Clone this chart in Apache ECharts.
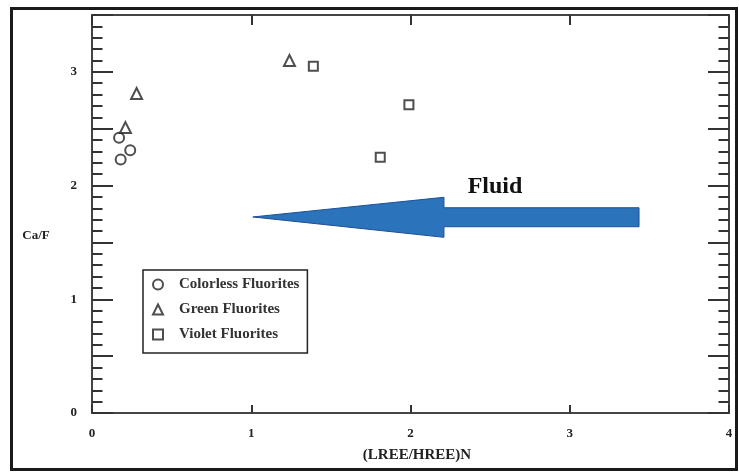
<!DOCTYPE html>
<html><head><meta charset="utf-8">
<script src="https://cdn.jsdelivr.net/npm/echarts@6/dist/echarts.min.js"></script>
<style>html,body{margin:0;padding:0;background:#fff}#c{width:739px;height:474px}</style>
</head><body><div id="c"></div>
<script>
// ---- data ----
const seriesNames = ['Colorless Fluorites', 'Green Fluorites', 'Violet Fluorites'];
const colorless = [[0.17, 2.42], [0.24, 2.31], [0.18, 2.23]];
const green = [[0.28, 2.81], [0.21, 2.51], [1.24, 3.10]];
const violet = [[1.39, 3.05], [1.99, 2.71], [1.81, 2.25]];
const arrowPoints = [[1.01, 1.724], [2.21, 1.897], [2.21, 1.805], [3.435, 1.805], [3.435, 1.638], [2.21, 1.638], [2.21, 1.545]];
const xRange = [0, 4];
const yRange = [0, 3.5];
const xName = '(LREE/HREE)N';
const yName = 'Ca/F';
const fluidLabel = 'Fluid';

const FONT = '"Liberation Serif", "DejaVu Serif", serif';
const INK = '#222';
const chart = echarts.init(document.getElementById('c'), null, {renderer: 'canvas'});

const tickLine = {color: '#333', width: 2};
const baseX = {
  type: 'value', min: xRange[0], max: xRange[1], interval: 1,
  axisLine: {show: true, onZero: false, lineStyle: {color: '#444', width: 2}},
  splitLine: {show: false}
};
const baseY = {
  type: 'value', min: yRange[0], max: yRange[1], interval: 0.5,
  axisLine: {show: true, onZero: false, lineStyle: {color: '#444', width: 2}},
  axisTick: {show: true, inside: true, length: 21, lineStyle: tickLine},
  minorTick: {show: true, splitNumber: 5, length: 10.5, lineStyle: tickLine},
  splitLine: {show: false}, minorSplitLine: {show: false}
};
const hollow = {color: '#fff', borderColor: INK, borderWidth: 2};

chart.setOption({
  animation: false,
  backgroundColor: '#fff',
  grid: {left: 92, right: 10, top: 15, bottom: 61, containLabel: false},
  xAxis: [
    Object.assign({}, baseX, {
      position: 'bottom',
      axisTick: {show: true, inside: true, length: 8, lineStyle: tickLine},
      axisLabel: {margin: 14, fontFamily: FONT, fontWeight: 'bold', fontSize: 13, color: INK}
    }),
    Object.assign({}, baseX, {
      position: 'top',
      axisTick: {show: true, inside: true, length: 10, lineStyle: tickLine},
      axisLabel: {show: false}
    })
  ],
  yAxis: [
    Object.assign({}, baseY, {
      position: 'left',
      axisLabel: {margin: 15, fontFamily: FONT, fontWeight: 'bold', fontSize: 13, color: INK,
        formatter: v => (Math.abs(v - Math.round(v)) < 1e-6 ? String(Math.round(v)) : '')}
    }),
    Object.assign({}, baseY, {position: 'right', axisLabel: {show: false}})
  ],
  legend: {
    orient: 'vertical', left: 143, top: 270,
    selectedMode: false,
    itemWidth: 10, itemHeight: 10, itemGap: 10,
    padding: [7, 8, 11, 9],
    borderColor: INK, borderWidth: 1.5,
    textStyle: {fontFamily: FONT, fontWeight: 'bold', fontSize: 15, lineHeight: 15, color: '#333', padding: [0, 0, 0, 11]},
    data: [
      {name: seriesNames[0], icon: 'circle', itemStyle: hollow},
      {name: seriesNames[1], icon: 'triangle', itemStyle: hollow},
      {name: seriesNames[2], icon: 'rect', itemStyle: hollow}
    ]
  },
  series: [
    {
      type: 'custom', silent: true, z: 1,
      data: [[0, 0]],
      renderItem: (params, api) => ({
        type: 'polygon',
        shape: {points: arrowPoints.map(p => api.coord(p))},
        style: {fill: '#2b73ba', stroke: '#1e4f99', lineWidth: 1}
      })
    },
    {name: seriesNames[0], type: 'scatter', symbol: 'circle', symbolSize: 10, data: colorless, itemStyle: hollow, z: 3},
    {name: seriesNames[1], type: 'scatter', symbol: 'triangle', symbolSize: 11, data: green, itemStyle: hollow, z: 3},
    {name: seriesNames[2], type: 'scatter', symbol: 'rect', symbolSize: 9, data: violet, itemStyle: hollow, z: 3}
  ],
  graphic: [
    {type: 'rect', z: 100, silent: true,
      shape: {x: 11.5, y: 8.5, width: 725, height: 461},
      style: {fill: 'none', stroke: '#1a1a1a', lineWidth: 3}},
    {type: 'text', x: 36, y: 236, z: 100, silent: true,
      style: {text: yName, font: 'bold 13px ' + FONT, fill: INK, align: 'center', verticalAlign: 'middle'}},
    {type: 'text', x: 417, y: 455, z: 100, silent: true,
      style: {text: xName, font: 'bold 15px ' + FONT, fill: INK, align: 'center', verticalAlign: 'middle'}},
    {type: 'text', x: 495, y: 187, z: 100, silent: true,
      style: {text: fluidLabel, font: 'bold 24px ' + FONT, fill: '#111', align: 'center', verticalAlign: 'middle'}}
  ]
});
</script>
</body></html>
